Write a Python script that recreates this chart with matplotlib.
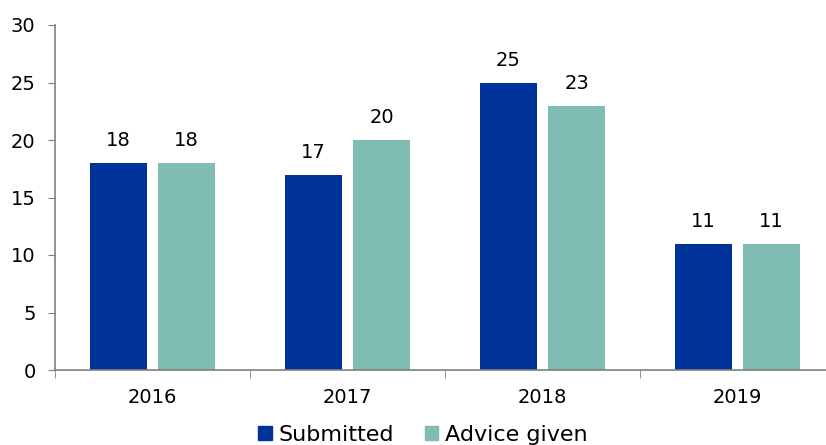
import numpy as np
import matplotlib.pyplot as plt
from matplotlib.patches import Patch

years = ['2016', '2017', '2018', '2019']
submitted = [18, 17, 25, 11]
advice_given = [18, 20, 23, 11]

blue = '#003399'
teal = '#7fbcb2'
grey = '#808080'

fig = plt.figure(figsize=(8.26, 4.45), dpi=100)
ax = fig.add_axes([55 / 826, 1 - 370 / 445, 780 / 826, 345 / 445])

x = np.arange(len(years))
w = 0.293
off = 0.175
b1 = ax.bar(x - off, submitted, w, color=blue)
b2 = ax.bar(x + off, advice_given, w, color=teal)

for bars, vals in ((b1, submitted), (b2, advice_given)):
    for bar, v in zip(bars, vals):
        ax.text(bar.get_x() + bar.get_width() / 2, v + 1.1, str(v),
                ha='center', va='bottom', fontsize=14)

ax.set_xlim(-0.5, len(years) - 0.5)
ax.set_ylim(0, 30)
ax.set_yticks(range(0, 31, 5))
ax.set_xticks(x)
ax.set_xticklabels(years)
ax.set_xticks(np.arange(-0.5, len(years), 1), minor=True)
ax.tick_params(axis='x', which='major', length=0, labelsize=14, pad=13)
ax.tick_params(axis='x', which='minor', length=6, color=grey, direction='out')
ax.tick_params(axis='y', length=5, color=grey, labelsize=14, pad=9)

for s in ('top', 'right'):
    ax.spines[s].set_visible(False)
for s in ('left', 'bottom'):
    ax.spines[s].set_color(grey)
    ax.spines[s].set_linewidth(1.2)

handles = [Patch(color=blue, label='Submitted'), Patch(color=teal, label='Advice given')]
fig.legend(handles=handles, loc='center', bbox_to_anchor=(0.512, 1 - 435 / 445),
           ncol=2, frameon=False, fontsize=16, handlelength=0.6, handleheight=0.6,
           handletextpad=0.3, columnspacing=1.4)

fig.savefig('out.png', dpi=100)
